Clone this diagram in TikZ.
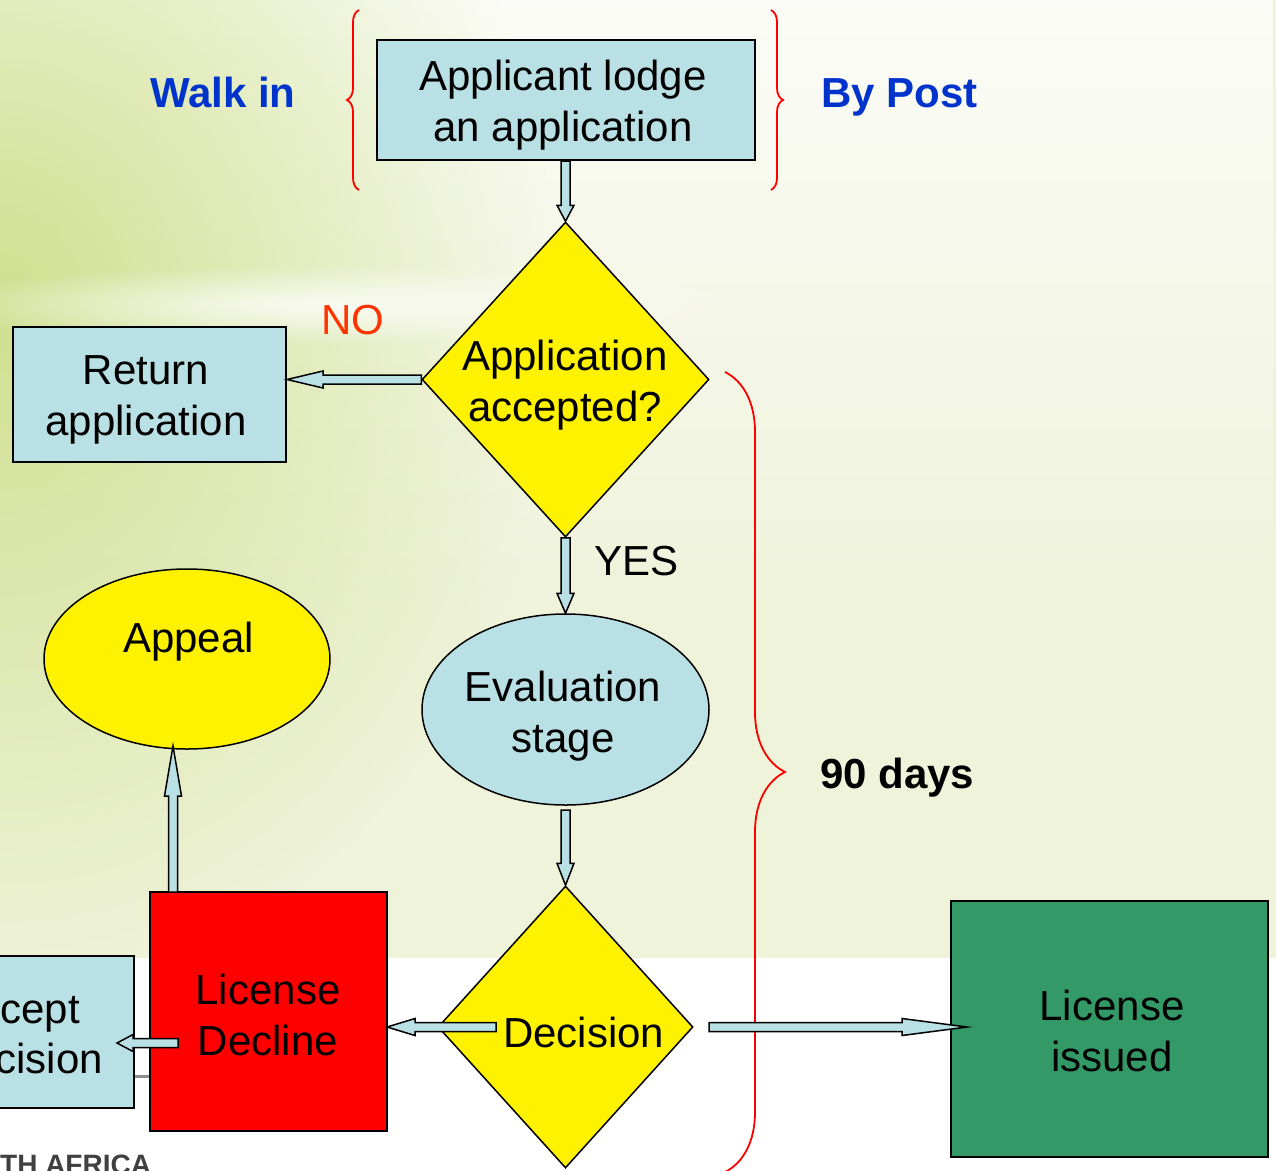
\documentclass[tikz,border=0pt]{standalone}
\usepackage{fontspec}
\setmainfont{Liberation Sans}
\usetikzlibrary{shapes.geometric,calc,decorations.pathreplacing,fadings}
\definecolor{boxblue}{RGB}{185,224,228}
\definecolor{boxgreen}{RGB}{51,153,102}
\definecolor{walkblue}{RGB}{0,51,204}
\definecolor{noorange}{RGB}{255,51,0}
\definecolor{bgbase}{RGB}{239,243,218}
\definecolor{leftgreen}{RGB}{207,224,143}
\tikzfading[name=fadedown, top color=transparent!20, bottom color=transparent!100]
\tikzfading[name=radfade, inner color=transparent!0, outer color=transparent!100]
\tikzset{
  box/.style={draw=black, line width=2pt, fill=boxblue, inner sep=0pt},
  dia/.style={diamond, draw=black, line width=1.5pt, fill=yellow, inner sep=0pt},
  ell/.style={ellipse, draw=black, line width=1.5pt, inner sep=0pt},
  txt/.style={align=center, inner sep=0pt},
  lbl/.style={anchor=base west, inner sep=0pt},
  lble/.style={anchor=base east, inner sep=0pt},
  barrow/.style={fill=boxblue, draw=black, line width=1.5pt, line join=miter},
  redbrace/.style={draw=red, line width=1.8pt, decorate},
}
\newcommand{\blockarrow}[3]{%
  \filldraw[barrow] let \p1=(#1), \p2=(#2),
    \n1={atan2(\y2-\y1,\x2-\x1)}, \n2={veclen(\x2-\x1,\y2-\y1)} in
    [shift={(\p1)}, rotate=\n1]
    (0pt,4.5pt) -- ({(\n2-#3)*1pt},4.5pt) -- ({(\n2-#3)*1pt},8.5pt) -- ({\n2*1pt},0pt)
    -- ({(\n2-#3)*1pt},-8.5pt) -- ({(\n2-#3)*1pt},-4.5pt) -- (0pt,-4.5pt) -- cycle;}
\begin{document}
\begin{tikzpicture}[x=1pt, y=-1pt, font=\fontsize{42}{51}\selectfont]
\useasboundingbox (0,0) rectangle (1276,1170);
\clip (0,0) rectangle (1276,1170);
% background
\fill[white] (0,0) rectangle (1276,1170);
\fill[bgbase] (0,0) rectangle (1276,958);
\fill[white, path fading=fadedown] (0,0) rectangle (1276,620);
\fill[leftgreen, path fading=radfade] (0,310) ellipse [x radius=560pt, y radius=680pt];
\fill[white, opacity=0.8, path fading=radfade] (330,305) ellipse [x radius=420pt, y radius=40pt];
\draw[black!45, line width=3pt] (0,1076) -- (150,1076);
\node[lbl, font=\bfseries\fontsize{28}{30}\selectfont, text=black!75] (africa) at (0,1174) {TH AFRICA};

% braces
\draw[redbrace, decoration={brace, amplitude=12pt}] (359,190) -- (359,10);
\draw[redbrace, decoration={brace, amplitude=12pt}] (771,10) -- (771,190);
\draw[redbrace, decoration={brace, amplitude=60pt}] (725,372) -- (725,1172);

% nodes
\node[box, minimum width=378pt, minimum height=120pt] (lodge) at (565.5,100) {};
\node[dia, minimum width=287pt, minimum height=315pt] (acc) at (565.5,379.5) {};
\node[box, minimum width=273pt, minimum height=135pt] (ret) at (149.5,394.5) {};
\node[ell, fill=boxblue, minimum width=287pt, minimum height=191pt] (eval) at (565.5,709.5) {};
\node[dia, minimum width=255pt, minimum height=282pt] (dec) at (565.5,1027) {};
\node[ell, fill=yellow, minimum width=286pt, minimum height=180pt] (appeal) at (187,659) {};
\node[box, fill=red, minimum width=237pt, minimum height=239pt] (decl) at (268.5,1011.5) {};
\node[box, fill=boxgreen, minimum width=317pt, minimum height=256pt] (issued) at (1109.5,1029) {};
\node[box, minimum width=274pt, minimum height=152pt] (accept) at (-3,1032) {};

% connector end points
\coordinate (retin) at (ret.east |- acc.west);
\coordinate (evout) at (565.5,810);
\coordinate (decl1) at (496,1027);
\coordinate (decl2) at (387,1027);
\coordinate (decr1) at (709,1027);
\coordinate (decr2) at (967,1027);
\coordinate (acc1) at (178,1043);
\coordinate (acc2) at (117,1043);
\coordinate (app1) at (173,892);
\coordinate (app2) at (173,746);

% arrows
\blockarrow{lodge.south}{acc.north}{16}
\blockarrow{acc.west}{retin}{36}
\blockarrow{acc.south}{eval.north}{20}
\blockarrow{evout}{dec.north}{22}
\blockarrow{decl1}{decl2}{28}
\blockarrow{decr1}{decr2}{65}
\blockarrow{acc1}{acc2}{16}
\blockarrow{app1}{app2}{50}

% texts
\node[txt] (lodget) at (563,105) {Applicant lodge\\an application};
\node[txt] (rett) at (146,400) {Return\\application};
\node[txt] (acct) at (565,385.5) {Application\\accepted?};
\node[txt] (evalt) at (563,716) {Evaluation\\stage};
\node[lbl] (dect) at (503,1047) {Decision};
\node[lbl] (appealt) at (123,652) {Appeal};
\node[txt] (declt) at (268,1015) {License\\Decline};
\node[txt] (issuedt) at (1112,1031) {License\\issued};
\node[lble] (acceptt1) at (80,1023) {Accept};
\node[lble] (acceptt2) at (103,1073) {decision};

\node[lbl, font=\bfseries\fontsize{42}{51}\selectfont, text=walkblue] (walk) at (150,107) {Walk in};
\node[lbl, font=\bfseries\fontsize{42}{51}\selectfont, text=walkblue] (post) at (821,107) {By Post};
\node[lbl, text=noorange] (no) at (321,334) {NO};
\node[lbl] (yes) at (594,575) {YES};
\node[lbl, font=\bfseries\fontsize{42}{51}\selectfont] (days) at (820,788) {90 days};
\end{tikzpicture}
\end{document}
